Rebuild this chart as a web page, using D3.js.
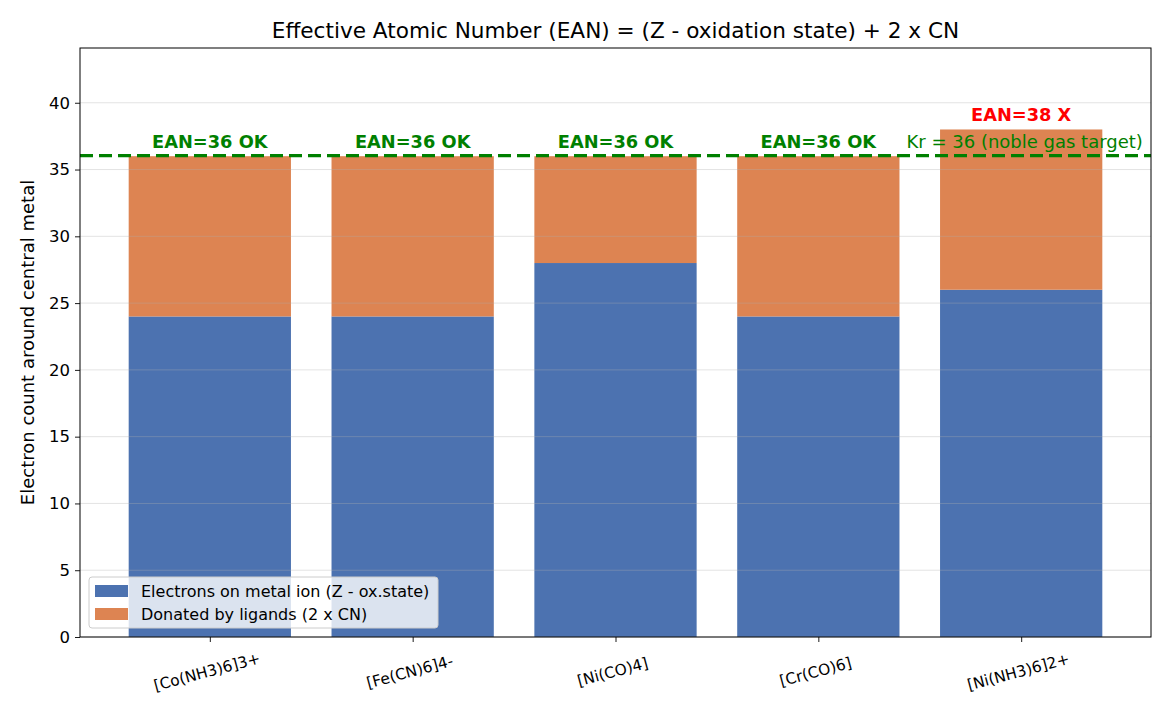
<!DOCTYPE html>
<html>
<head>
<meta charset="utf-8">
<style>
  body { margin: 0; background: #fff; }
  svg { font-family: "DejaVu Sans", sans-serif; }
</style>
</head>
<body>
<svg width="1170" height="715"></svg>
<script src="https://d3js.org/d3.v7.min.js"></script>
<script>

var complexes = ["[Co(NH3)6]3+", "[Fe(CN)6]4-", "[Ni(CO)4]", "[Cr(CO)6]", "[Ni(NH3)6]2+"];
var metalElectrons = [24, 24, 28, 24, 26];
var ligandElectrons = [12, 12, 8, 12, 12];
var yTicks = [0, 5, 10, 15, 20, 25, 30, 35, 40];
var krTarget = 36;

var svg = d3.select("svg"),
  margin = {top: 48, right: 19, bottom: 78, left: 80},
  width = +svg.attr("width") - margin.left - margin.right,
  height = +svg.attr("height") - margin.top - margin.bottom,
  g = svg.append("g").attr("transform", "translate(" + margin.left + "," + margin.top + ")");

var blue = "#4c72b0", orange = "#dd8452";

// bar centres on 0..4, matplotlib-style padding
var x = d3.scaleLinear().domain([-0.64, 4.64]).range([0, width]);
var y = d3.scaleLinear().domain([0, 44.1]).range([height, 0]);
var bw = x(0.4) - x(-0.4);

var data = complexes.map(function(c, i) {
  return {name: c, i: i, metal: metalElectrons[i], lig: ligandElectrons[i], total: metalElectrons[i] + ligandElectrons[i]};
});

// bars
g.selectAll(".metal")
  .data(data)
  .enter().append("rect")
  .attr("class", "metal")
  .attr("x", function(d) { return x(d.i) - bw / 2; })
  .attr("width", bw)
  .attr("y", function(d) { return y(d.metal); })
  .attr("height", function(d) { return y(0) - y(d.metal); })
  .style("fill", blue);

g.selectAll(".lig")
  .data(data)
  .enter().append("rect")
  .attr("class", "lig")
  .attr("x", function(d) { return x(d.i) - bw / 2; })
  .attr("width", bw)
  .attr("y", function(d) { return y(d.total); })
  .attr("height", function(d) { return y(d.metal) - y(d.total); })
  .style("fill", orange);

// grid (sits over the bars, faint)
g.selectAll(".grid")
  .data(yTicks)
  .enter().append("line")
  .attr("class", "grid")
  .attr("x1", 0).attr("x2", width)
  .attr("y1", function(d) { return y(d); })
  .attr("y2", function(d) { return y(d); })
  .style("stroke", "#b0b0b0")
  .style("stroke-opacity", 0.35)
  .style("stroke-width", 1);

// noble gas line
g.append("line")
  .attr("x1", 0).attr("x2", width)
  .attr("y1", y(krTarget) - 0.5).attr("y2", y(krTarget) - 0.5)
  .style("stroke", "green")
  .style("stroke-width", 3.2)
  .style("stroke-dasharray", "13,6");

g.append("text")
  .attr("x", x(4.6))
  .attr("y", y(krTarget) - 8)
  .attr("text-anchor", "end")
  .style("font-size", "18px")
  .style("fill", "green")
  .text("Kr = " + krTarget + " (noble gas target)");

// EAN labels
g.selectAll(".ean")
  .data(data)
  .enter().append("text")
  .attr("class", "ean")
  .attr("x", function(d) { return x(d.i); })
  .attr("y", function(d) { return y(d.total + 0.5) - 2; })
  .attr("text-anchor", "middle")
  .style("font-size", "17.8px")
  .style("font-weight", "bold")
  .style("fill", function(d) { return d.total === krTarget ? "green" : "red"; })
  .text(function(d) { return "EAN=" + d.total + (d.total === krTarget ? " OK" : " X"); });

// axes
var yAxis = g.append("g")
  .call(d3.axisLeft(y).tickValues(yTicks).tickSize(5).tickPadding(5));
var xAxis = g.append("g")
  .attr("transform", "translate(0," + height + ")")
  .call(d3.axisBottom(x).tickValues(d3.range(complexes.length)).tickFormat(function(i) { return complexes[i]; }).tickSize(5));

[yAxis, xAxis].forEach(function(a) {
  a.select(".domain").remove();
  a.selectAll("line").style("stroke", "#000").style("stroke-width", 0.9);
  a.selectAll("text").style("font-family", "DejaVu Sans").style("fill", "#000");
});
yAxis.selectAll("text").style("font-size", "16.5px");
xAxis.selectAll("text")
  .style("font-size", "15.4px")
  .attr("text-anchor", "middle")
  .attr("dy", null)
  .attr("y", null)
  .attr("transform", "translate(-2,40) rotate(-15)");

g.append("rect")
  .attr("width", width).attr("height", height)
  .style("fill", "none").style("stroke", "#000").style("stroke-width", 1);

// titles
svg.append("text")
  .attr("x", margin.left + width / 2)
  .attr("y", 38)
  .attr("text-anchor", "middle")
  .style("font-size", "21.6px")
  .text("Effective Atomic Number (EAN) = (Z - oxidation state) + 2 x CN");

svg.append("text")
  .attr("transform", "translate(34," + (margin.top + height / 2) + ") rotate(-90)")
  .attr("text-anchor", "middle")
  .style("font-size", "18px")
  .text("Electron count around central metal");

// legend
var legend = g.append("g").attr("transform", "translate(9," + (height - 60) + ")");
legend.append("rect")
  .attr("width", 349).attr("height", 51).attr("rx", 3)
  .style("fill", "#fff").style("fill-opacity", 0.8)
  .style("stroke", "#ccc").style("stroke-width", 1);

var legendItems = [
  {label: "Electrons on metal ion (Z - ox.state)", color: blue},
  {label: "Donated by ligands (2 x CN)", color: orange}
];
legendItems.forEach(function(d, i) {
  legend.append("rect")
    .attr("x", 6).attr("y", 8 + i * 23)
    .attr("width", 33).attr("height", 12)
    .style("fill", d.color);
  legend.append("text")
    .attr("x", 52).attr("y", 14 + i * 23)
    .attr("dominant-baseline", "central")
    .style("font-size", "16px")
    .text(d.label);
});

</script>
</body>
</html>
